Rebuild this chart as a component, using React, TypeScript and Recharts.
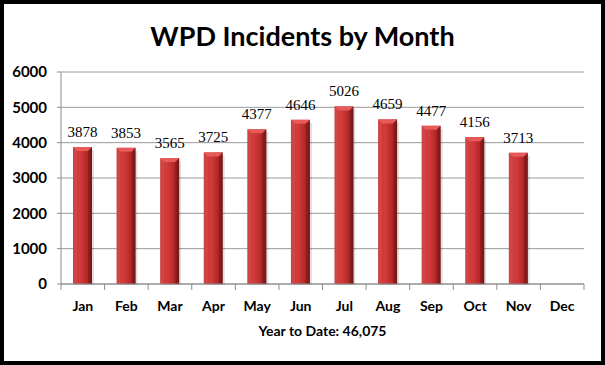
import { Bar, BarChart, CartesianGrid, LabelList, XAxis, YAxis } from "recharts";

const months = ["Jan", "Feb", "Mar", "Apr", "May", "Jun", "Jul", "Aug", "Sep", "Oct", "Nov", "Dec"];
const incidents: (number | null)[] = [3878, 3853, 3565, 3725, 4377, 4646, 5026, 4659, 4477, 4156, 3713, null];
const yTicks = [0, 1000, 2000, 3000, 4000, 5000, 6000];
const title = "WPD Incidents by Month";
const axisTitle = "Year to Date: 46,075";

const data = months.map((month, i) => ({ month, incidents: incidents[i] }));

const FONT = "Lato, 'Liberation Sans', sans-serif";

function MonthTick(props: any) {
  const { x, y, payload, index } = props;
  const off = payload.offset ?? 0;
  return (
    <g>
      <line x1={x - off} y1={y} x2={x - off} y2={y + 6} stroke="#8c8c8c" />
      {index === months.length - 1 && (
        <line x1={x + off} y1={y} x2={x + off} y2={y + 6} stroke="#8c8c8c" />
      )}
      <text x={x} y={y + 27} textAnchor="middle" fontFamily={FONT} fontWeight={700} fontSize={14} fill="#000">
        {payload.value}
      </text>
    </g>
  );
}

function BevelBar(props: any) {
  const { x, y, width, height } = props;
  if (!height || height <= 0) return null;
  const b = 4;
  return (
    <g>
      <rect x={x + 2} y={y + 3} width={width} height={height - 2} fill="rgba(0,0,0,0.12)" />
      <rect x={x} y={y} width={width} height={height} fill="url(#barFill)" />
      <polygon
        points={`${x},${y} ${x + width},${y} ${x + width - b},${y + b} ${x + b},${y + b}`}
        fill="#e65a5a"
      />
      <polygon points={`${x},${y} ${x + b},${y + b} ${x + b},${y + height} ${x},${y + height}`} fill="rgba(255,255,255,0.08)" />
      <polygon
        points={`${x + width},${y} ${x + width - b},${y + b} ${x + width - b},${y + height} ${x + width},${y + height}`}
        fill="rgba(0,0,0,0.15)"
      />
    </g>
  );
}

export default function App() {
  return (
    <div style={{ position: "fixed", left: 0, top: 0, width: 605, height: 365, background: "#fff" }}>
      <div
        style={{
          position: "absolute",
          left: 0,
          top: 0,
          width: 605,
          textAlign: "center",
          fontFamily: FONT,
          fontWeight: 700,
          fontSize: 27,
          lineHeight: "27px",
          paddingTop: 22,
          color: "#000",
        }}
      >
        {title}
      </div>
      <BarChart
        width={605}
        height={365}
        data={data}
        margin={{ top: 72, right: 21, bottom: 29, left: 0 }}
        barSize={19}
        style={{ position: "absolute", left: 0, top: 0 }}
      >
        <defs>
          <linearGradient id="barFill" x1="0" y1="0" x2="1" y2="0">
            <stop offset="0%" stopColor="#c83232" />
            <stop offset="35%" stopColor="#d43c3c" />
            <stop offset="70%" stopColor="#b82a2a" />
            <stop offset="100%" stopColor="#8e1a1a" />
          </linearGradient>
        </defs>
        <CartesianGrid vertical={false} stroke="#9a9a9a" />
        <XAxis
          dataKey="month"
          height={52}
          axisLine={{ stroke: "#8c8c8c" }}
          tickLine={false}
          tickSize={0}
          tickMargin={0}
          interval={0}
          tick={<MonthTick />}
          label={{
            value: axisTitle,
            position: "insideBottom",
            offset: 0,
            fontFamily: FONT,
            fontWeight: 700,
            fontSize: 14,
            fill: "#000",
          }}
        />
        <YAxis
          width={61}
          domain={[0, 6000]}
          ticks={yTicks}
          interval={0}
          axisLine={{ stroke: "#8c8c8c" }}
          tickLine={{ stroke: "#8c8c8c" }}
          tickSize={4}
          tickMargin={10}
          tick={{ fontFamily: FONT, fontWeight: 700, fontSize: 15, fill: "#000" }}
        />
        <Bar dataKey="incidents" shape={<BevelBar />} isAnimationActive={false}>
          <LabelList
            dataKey="incidents"
            position="top"
            offset={10}
            fontFamily="'Liberation Serif', serif"
            fontSize={15}
            fill="#000"
          />
        </Bar>
      </BarChart>
      <div
        style={{
          position: "absolute",
          left: 0,
          top: 0,
          width: 605,
          height: 365,
          border: "4px solid #000",
          boxSizing: "border-box",
          pointerEvents: "none",
        }}
      />
    </div>
  );
}
